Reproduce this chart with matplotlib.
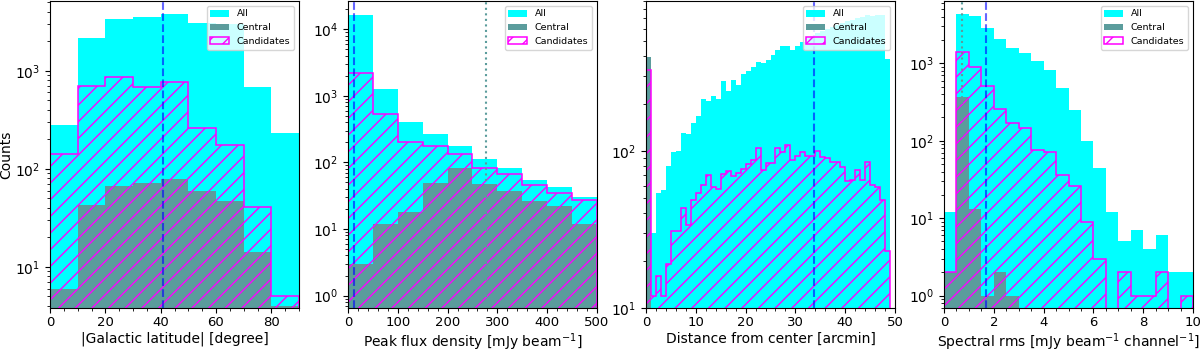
import numpy as np
import matplotlib
matplotlib.use('Agg')
import matplotlib.pyplot as plt

# |b| histogram, 10 deg bins
lat_edges = np.arange(0, 91, 10)
lat_all = [277, 2140, 3350, 3510, 3760, 3040, 2990, 690, 233]
lat_central = [6, 43, 66, 71, 79, 59, 47, 14, 4]
lat_cand = [140, 703, 860, 676, 773, 259, 176, 41, 5]

# peak flux, 50 mJy/beam bins
flux_edges = np.arange(0, 501, 50)
flux_all = [16400, 1250, 407, 266, 178, 111, 83, 54, 42, 30]
flux_central = [3, 12, 18, 49, 83, 47, 37, 26, 22, 12]
flux_cand = [2170, 531, 202, 176, 133, 83, 68, 45, 35, 27]

# distance from pointing centre, 1 arcmin bins
dist_edges = np.arange(0, 50, 1)
dist_all = [395, 30, 54, 56, 80, 98, 100, 130, 128, 150,
            166, 213, 209, 224, 214, 277, 242, 283, 262, 309,
            323, 344, 370, 365, 380, 408, 440, 462, 462, 440,
            467, 497, 522, 540, 562, 576, 596, 619, 635, 651,
            667, 683, 700, 717, 728, 725, 738, 730, 384]
dist_central = [395] + [0] * 48
dist_cand = [328, 12, 16, 12, 19, 31, 31, 43, 34, 49,
             54, 61, 70, 59, 57, 71, 75, 69, 72, 77,
             82, 87, 105, 76, 84, 84, 105, 98, 109, 88,
             93, 98, 93, 93, 100, 92, 90, 85, 85, 79,
             64, 65, 76, 65, 85, 61, 59, 49, 23]

# spectral rms, 0.5 bins
rms_edges = np.arange(0, 10.01, 0.5)
rms_all = [12, 4300, 4090, 2830, 2040, 1563, 1349, 1072, 821, 476,
           250, 100, 44, 12, 5, 7, 4, 6, 2, 2]
rms_central = [2, 372, 13, 1, 2, 1, 0, 0, 0, 0,
               0, 0, 0, 0, 0, 0, 0, 0, 0, 0]
rms_cand = [2, 1416, 906, 510, 255, 168, 145, 76, 72, 36,
            26, 9, 3, 0, 2, 1, 1, 2, 0, 1]

# vertical markers (dashed / dotted)
dashed_x = [41, 12, 33.8, 1.67]
dotted_x = [None, 278, None, 0.71]

xlabels = ['|Galactic latitude| [degree]',
           'Peak flux density [mJy beam$^{-1}$]',
           'Distance from center [arcmin]',
           'Spectral rms [mJy beam$^{-1}$ channel$^{-1}$]']
xlims = [(0, 90), (0, 500), (0, 50), (0, 10)]
ylims = [(3.8, 5140), (0.65, 26600), (10, 900), (0.69, 6400)]

central_color = '#5b9c9c'

panels = [
    (lat_edges, lat_all, lat_central, lat_cand),
    (flux_edges, flux_all, flux_central, flux_cand),
    (dist_edges, dist_all, dist_central, dist_cand),
    (rms_edges, rms_all, rms_central, rms_cand),
]

fig = plt.figure(figsize=(12, 3.52), dpi=100)
lefts = [50, 348, 646, 944]

for i, (edges, a, c, cand) in enumerate(panels):
    ax = fig.add_axes([lefts[i] / 1200, 44 / 352, 249 / 1200, 307 / 352])
    centers = edges[:-1]
    ax.hist(centers, bins=edges, weights=a, color='cyan', label='All', log=True)
    ax.hist(centers, bins=edges, weights=c, color=central_color, label='Central', log=True)
    ax.hist(centers, bins=edges, weights=cand, histtype='step', hatch='//',
            edgecolor='magenta', lw=1.1, label='Candidates', log=True)
    ax.axvline(dashed_x[i], color='blue', ls='--', lw=1.5, alpha=0.6)
    if dotted_x[i] is not None:
        ax.axvline(dotted_x[i], color=central_color, ls=':', lw=1.5)
    ax.set_xlim(*xlims[i])
    ax.set_ylim(*ylims[i])
    ax.minorticks_on()
    ax.tick_params(axis='x', labelsize=9.5, pad=2.5)
    ax.tick_params(axis='y', labelsize=10)
    ax.set_xlabel(xlabels[i], fontsize=10, labelpad=1.5)
    if i == 0:
        ax.set_ylabel('Counts', fontsize=10, labelpad=1)
    ax.legend(loc='upper right', fontsize=6.8)

fig.savefig('out.png', dpi=100)
